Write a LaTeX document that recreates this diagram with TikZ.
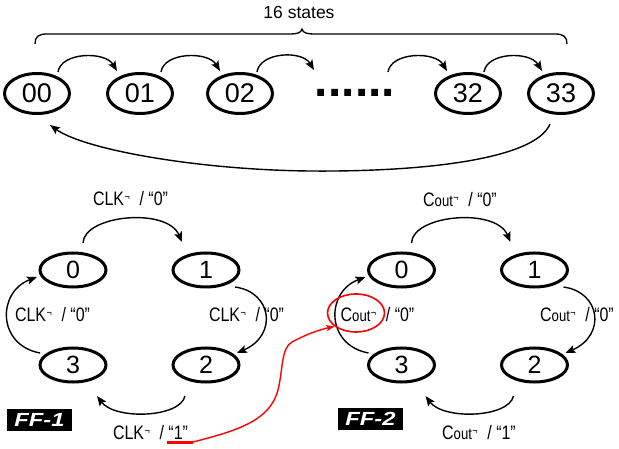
\documentclass[tikz,border=0pt]{standalone}
\usepackage{fontspec}
\setmainfont{Liberation Sans}
\newfontfamily\labfont[FakeStretch=0.82]{Liberation Sans}
\usetikzlibrary{arrows.meta,shapes.geometric}

% small raised "not" sign used after the clock / carry names
\newcommand\notmark{\makebox[11pt][l]{\kern0.5pt\raisebox{5.5pt}{\fontsize{11}{11}\selectfont ¬}}}
\newcommand\clksym{CLK\notmark}
\newcommand\coutsym{C{\fontsize{16}{16}\selectfont out}\notmark}

\tikzset{
  topstate/.style={ellipse, draw, line width=3pt, minimum width=65pt, minimum height=40pt,
    inner sep=0pt, font=\fontsize{27}{27}\selectfont},
  ffstate/.style={ellipse, draw, line width=3pt, minimum width=66pt, minimum height=34pt,
    inner sep=0pt, font=\fontsize{25}{25}\selectfont},
  trans/.style={line width=1.4pt, -{Stealth[length=10pt,width=8pt,inset=2pt]}},
  lab/.style={anchor=base, inner sep=0pt, font=\labfont\fontsize{19.5}{19.5}\selectfont},
  fftag/.style={fill=black, minimum width=65pt, minimum height=22pt, inner sep=0pt,
    text=white, font=\fontsize{19}{19}\selectfont\bfseries\itshape},
  hilite/.style={ellipse, draw=red, line width=1.6pt, minimum width=57pt, minimum height=38pt, inner sep=0pt},
  redlink/.style={red, line width=1.4pt, -{Stealth[length=8pt,width=6pt,inset=1.5pt]}},
}

\begin{document}
\begin{tikzpicture}[x=1pt,y=-1pt]
\useasboundingbox (0,0) rectangle (619,449);

% ---- 16-state ring counter ----
\node[anchor=base, inner sep=0pt, font=\fontsize{17.5}{17.5}\selectfont] (title) at (299,18.3) {16 states};
\draw[line width=1.3pt] (35,44) .. controls (35,37) and (38,34) .. (47,34) -- (290,34)
  .. controls (297,34) and (301,33) .. (302,29) .. controls (303,33) and (307,34) .. (314,34)
  -- (555,34) .. controls (564,34) and (567,37) .. (567,44);

\node[topstate] (b0)  at (37,93.5)  {00};
\node[topstate] (b1)  at (140,93.5) {01};
\node[topstate] (b2)  at (240,93.5) {02};
\node[topstate] (b32) at (468,93.5) {32};
\node[topstate] (b33) at (561,93.5) {33};
\node[anchor=base, inner sep=0pt, font=\fontsize{48}{48}\selectfont\bfseries] (dots) at (355,97) {......};

\coordinate (gapL) at (314,70);
\coordinate (gapR) at (388,72);

\draw[trans] ([shift={(21,-21.5)}]b0.center) .. controls +(3,-20) and +(-12,-20) .. ([shift={(-23,-22.5)}]b1.center);
\draw[trans] ([shift={(21,-21.5)}]b1.center) .. controls +(3,-20) and +(-12,-20) .. ([shift={(-20,-22.5)}]b2.center);
\draw[trans] ([shift={(17,-21.5)}]b2.center) .. controls +(3,-20) and +(-12,-20) .. (gapL);
\draw[trans] (gapR) .. controls +(3,-20) and +(-12,-20) .. ([shift={(-21,-22.5)}]b32.center);
\draw[trans] ([shift={(16,-21.5)}]b32.center) .. controls +(3,-20) and +(-12,-20) .. ([shift={(-19,-22.5)}]b33.center);

\draw[trans] ([shift={(-11,30.5)}]b33.center) .. controls (535,160) and (420,172) .. (310,171)
  .. controls (200,170) and (85,150) .. ([shift={(13,31.5)}]b0.center);

% ---- two 4-state counters ----
\node[ffstate] (a0) at (73,270)  {0};
\node[ffstate] (a1) at (206,270) {1};
\node[ffstate] (a2) at (206,365) {2};
\node[ffstate] (a3) at (73,365)  {3};

\node[ffstate] (c0) at (401.5,270) {0};
\node[ffstate] (c1) at (534.5,270) {1};
\node[ffstate] (c2) at (534.5,365) {2};
\node[ffstate] (c3) at (401.5,365) {3};

\foreach \p in {a,c}{
  \draw[trans] ([shift={(10,-27)}]\p0.center) .. controls +(1,-28) and +(-15,-35) .. ([shift={(-24,-28)}]\p1.center);
  \draw[trans] ([shift={(29,17)}]\p1.center) .. controls +(37,5) and +(41,-18) .. ([shift={(31,-12)}]\p2.center);
  \draw[trans] ([shift={(-21,31)}]\p2.center) .. controls +(-5,22) and +(18,24) .. ([shift={(24,31)}]\p3.center);
  \draw[trans] ([shift={(-33,-12)}]\p3.center) .. controls +(-43,-8) and +(-40,15) .. ([shift={(-36,7)}]\p0.center);
}

\node[lab] (la01) at (130.5,206)  {\clksym{} / “0”};
\node[lab] (la12) at (246.5,322)  {\clksym{} / “0”};
\node[lab] (la30) at (52.5,322)   {\clksym{} / “0”};
\node[lab] (la23) at (150.5,439.5){\clksym{} / “1”};

\node[lab] (lc01) at (460,207)    {\coutsym{} / “0”};
\node[lab] (lc12) at (577,322)    {\coutsym{} / “0”};
\node[lab] (lc30) at (377.5,322)  {\coutsym{} / “0”};
\node[lab] (lc23) at (479,439.5)  {\coutsym{} / “1”};

\node[fftag] (tag1) at (39.5,420)  {\scalebox{1.25}[1]{FF-1}};
\node[fftag] (tag2) at (370.5,419) {\scalebox{1.25}[1]{FF-2}};

% ---- carry link from FF-1 output to FF-2 clock ----
\coordinate (ulL) at (167,442);
\coordinate (ulR) at (193,442);
\draw[red, line width=3pt] (ulL) -- (ulR);
\node[hilite] (hl) at (356,313) {};
\draw[redlink] (ulR) .. controls (240,430) and (270,420) .. (278,390)
  .. controls (283,370) and (281,348) .. (292,342)
  .. controls (305,335) and (318,330) .. (hl.212);
\end{tikzpicture}
\end{document}
